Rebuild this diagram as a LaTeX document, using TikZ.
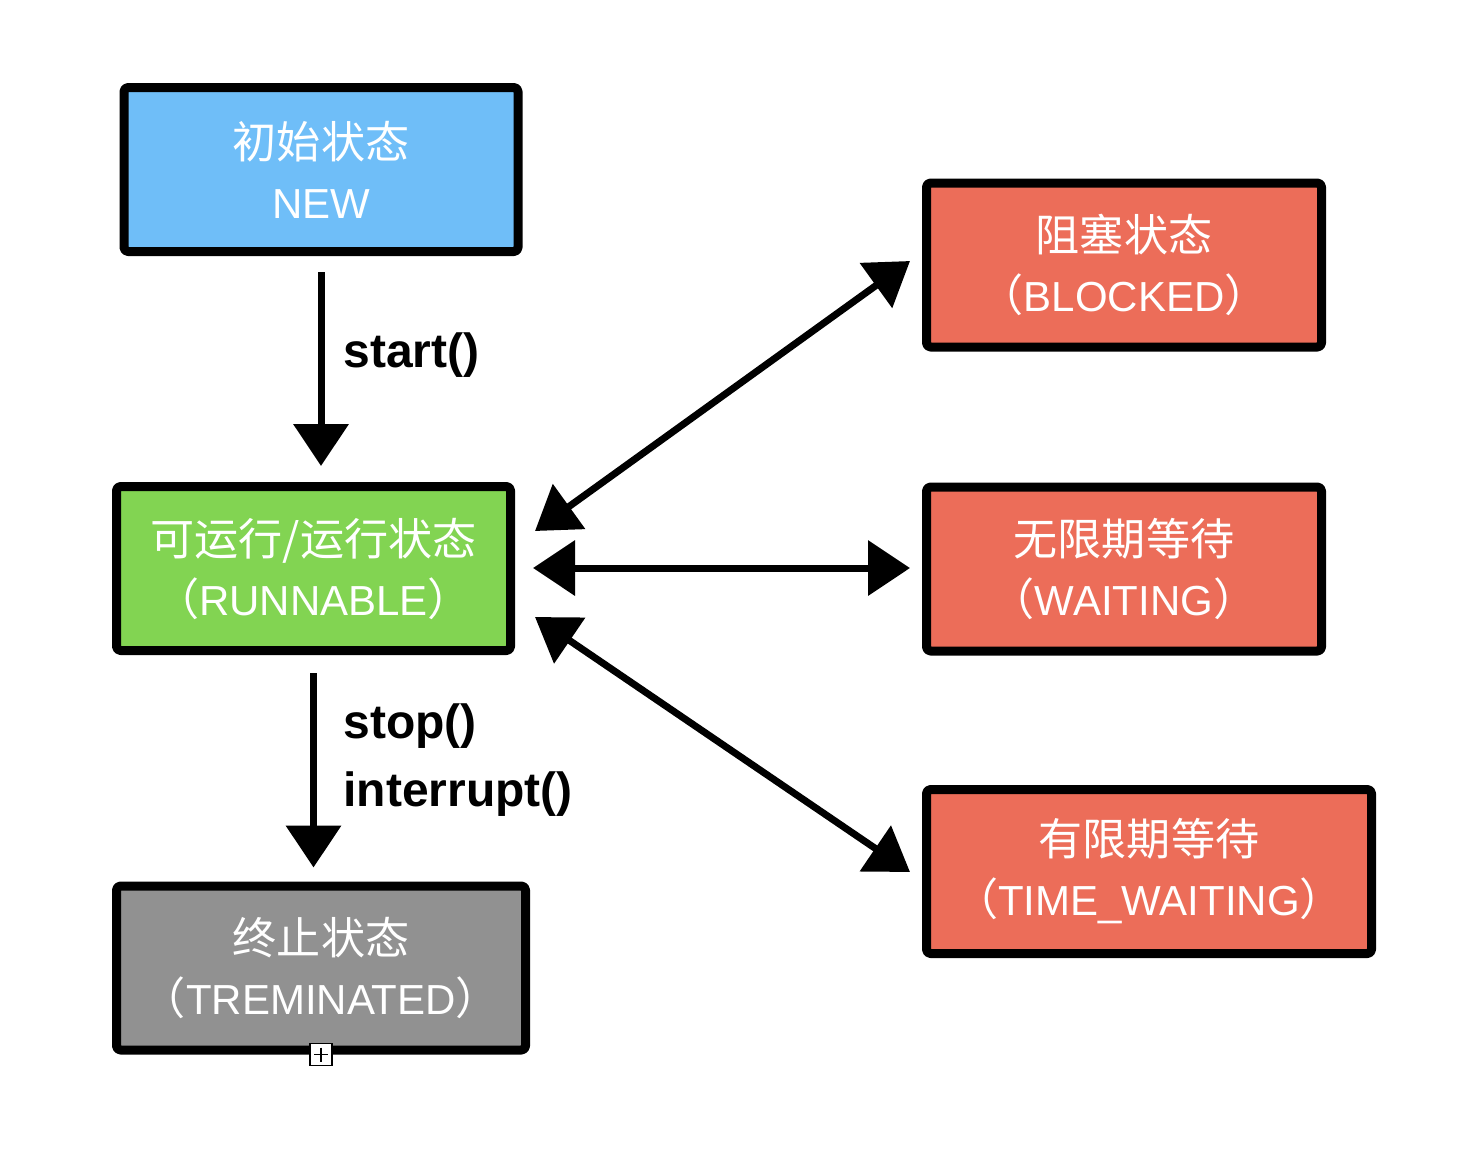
\documentclass[tikz,border=0pt]{standalone}
\usepackage{fontspec}
\setmainfont{Liberation Sans}
\newfontfamily\cjk{Noto Sans CJK SC}[Scale=1.05]
\usetikzlibrary{arrows.meta,positioning}

\definecolor{newblue}{HTML}{6FBEF8}
\definecolor{rungreen}{HTML}{82D452}
\definecolor{waitred}{HTML}{EC6D59}
\definecolor{endgray}{HTML}{919191}

% 全角括弧
\newcommand\fwl{{\cjk （}}
\newcommand\fwr{{\cjk ）}}

\begin{document}
\begin{tikzpicture}[x=0.5pt, y=-0.5pt,
  state/.style={draw=black, line width=4.5pt, line join=round, rounded corners=2pt,
    text=white, align=center, inner sep=0pt, minimum height=82pt,
    font=\fontsize{21}{30}\selectfont},
  tip/.tip={Triangle[length=21pt, width=27pt]},
  flow/.style={line width=3.5pt, -tip},
  both/.style={line width=3.5pt, tip-tip},
  lbl/.style={font=\bfseries\fontsize{24}{34}\selectfont, align=left, anchor=west, inner sep=0pt}]

  % 背景
  \fill[white] (0,0) rectangle (1460,1158);
  \useasboundingbox (0,0) rectangle (1460,1158);

  % 状态
  \node[state, fill=newblue, minimum width=197pt] (new) at (321,169.5)
    {{\cjk 初始状态}\\NEW};
  \node[state, fill=rungreen, minimum width=197pt] (run) at (313.5,568.5)
    {{\cjk 可运行/运行状态}\\\fwl RUNNABLE\fwr};
  \node[state, fill=endgray, minimum width=204.5pt] (term) at (321,968)
    {{\cjk 终止状态}\\\fwl TREMINATED\fwr};
  \node[state, fill=waitred, minimum width=197.5pt] (blocked) at (1124,265)
    {{\cjk 阻塞状态}\\\fwl BLOCKED\fwr};
  \node[state, fill=waitred, minimum width=197.5pt] (waiting) at (1124,569)
    {{\cjk 无限期等待}\\\fwl WAITING\fwr};
  \node[state, fill=waitred, minimum width=222.5pt] (timed) at (1149,871.5)
    {{\cjk 有限期等待}\\\fwl TIME\_WAITING\fwr};

  % 折叠记号
  \node[draw, fill=white, line width=0.8pt, minimum size=11pt, inner sep=0pt,
    path picture={\draw[line width=0.7pt] (path picture bounding box.north) ++(0,-2pt) -- ++(0,-7pt)
      (path picture bounding box.west) ++(2pt,0) -- ++(7pt,0);}] (fold) at (term.south) {};

  % 箭头
  \draw[flow, shorten <=8pt, shorten >=8pt] (new.south) -- (new.south |- run.north);
  \draw[flow, shorten <=9pt, shorten >=7pt] (run.south) -- (run.south |- term.north);

  \coordinate (bl0) at (535,531);
  \coordinate (bl1) at (910,261);
  \coordinate (wa0) at (533,568);
  \coordinate (wa1) at (910,568);
  \coordinate (ti0) at (535,617);
  \coordinate (ti1) at (910,872);
  \draw[both] (bl0) -- (bl1);
  \draw[both] (wa0) -- (wa1);
  \draw[both] (ti0) -- (ti1);

  % 方法
  \node[lbl] (lstart) at (343,355) {start()};
  \node[lbl] (lstop) at (343,760) {stop()\\interrupt()};

\end{tikzpicture}
\end{document}
